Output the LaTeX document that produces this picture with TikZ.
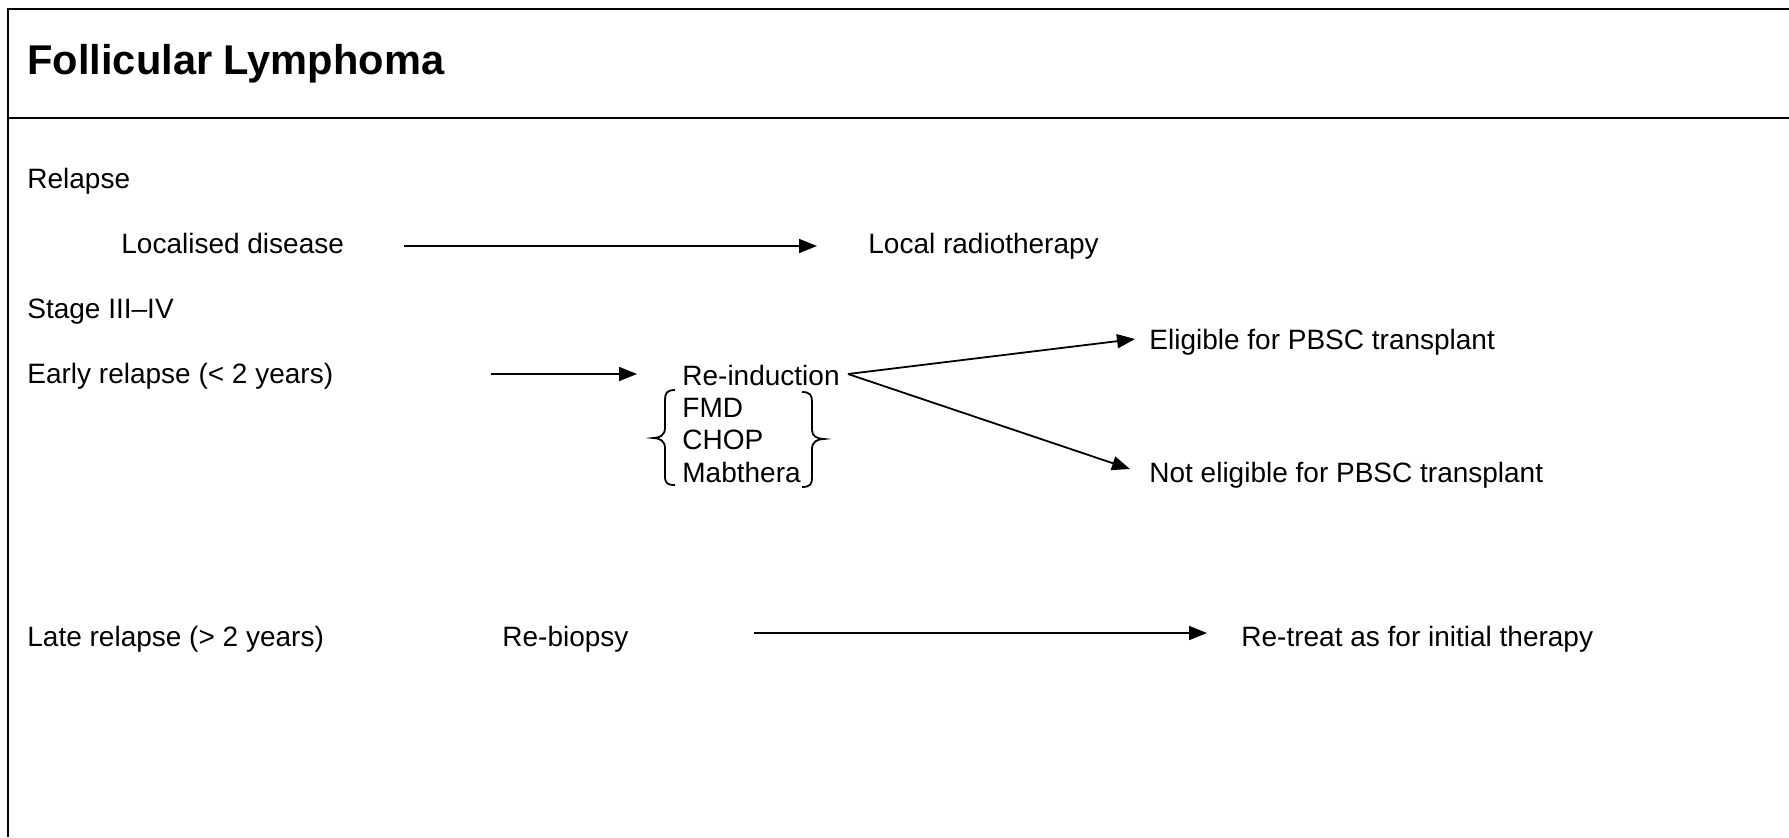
\documentclass[tikz,border=0pt]{standalone}
\usepackage{fontspec}
\setmainfont{Liberation Sans}
\usetikzlibrary{arrows.meta}
\begin{document}
\begin{tikzpicture}[x=0.5pt,y=-0.5pt,
  txt/.style={anchor=base west,inner sep=0pt,font=\fontsize{14}{16}\selectfont},
  ttl/.style={anchor=base west,inner sep=0pt,font=\fontsize{20.8}{24}\selectfont\bfseries},
  frame/.style={line width=1.2pt,black},
  arr/.style={line width=0.9pt,-{Triangle[length=9pt,width=7pt]}},
  brace/.style={line width=0.9pt}]
\useasboundingbox (0,0) rectangle (1789,837);
% frame
\draw[frame] (8,837) -- (8,9) -- (1789,9);
\draw[frame] (8,118) -- (1789,118);
% texts
\node[ttl] (title) at (27,74) {Follicular Lymphoma};
\node[txt] (relapse) at (27,188) {Relapse};
\node[txt] (localised) at (121,253) {Localised disease};
\node[txt] (localrad) at (868,253) {Local radiotherapy};
\node[txt] (stage) at (27,318) {Stage III–IV};
\node[txt] (early) at (27,383) {Early relapse (< 2 years)};
\node[txt] (reind) at (682,385) {Re-induction};
\node[txt] (fmd) at (682,417) {FMD};
\node[txt] (chop) at (682,449) {CHOP};
\node[txt] (mab) at (682,482) {Mabthera};
\node[txt] (elig) at (1149,349) {Eligible for PBSC transplant};
\node[txt] (nelig) at (1149,482) {Not eligible for PBSC transplant};
\node[txt] (late) at (27,646) {Late relapse (> 2 years)};
\node[txt] (rebiopsy) at (502,646) {Re-biopsy};
\node[txt] (retreat) at (1241,646) {Re-treat as for initial therapy};
% arrow end points
\coordinate (a1s) at (404,246);
\coordinate (a1e) at (817,246);
\coordinate (a2s) at (491,374);
\coordinate (a2e) at (637,374);
\coordinate (ro) at (848,374);
\coordinate (eligtip) at (1135,339);
\coordinate (neligtip) at (1130,469);
\coordinate (a3s) at (754,633);
\coordinate (a3e) at (1207,633);
% connectors
\draw[arr] (a1s) -- (a1e);
\draw[arr] (a2s) -- (a2e);
\draw[arr] (ro) -- (eligtip);
\draw[arr] (ro) -- (neligtip);
\draw[arr] (a3s) -- (a3e);
% braces
\draw[brace] (675,390) .. controls (667,390) and (665,393) .. (665,400) -- (665,428)
  .. controls (665,435) and (660,438) .. (653,438)
  .. controls (660,438) and (665,441) .. (665,448) -- (665,476)
  .. controls (665,483) and (667,485) .. (675,485);
\draw[brace] (802,392) .. controls (810,392) and (812,395) .. (812,402) -- (812,430)
  .. controls (812,436) and (817,439) .. (824,439)
  .. controls (817,439) and (812,442) .. (812,449) -- (812,478)
  .. controls (812,484) and (810,487) .. (802,487);
\end{tikzpicture}
\end{document}
